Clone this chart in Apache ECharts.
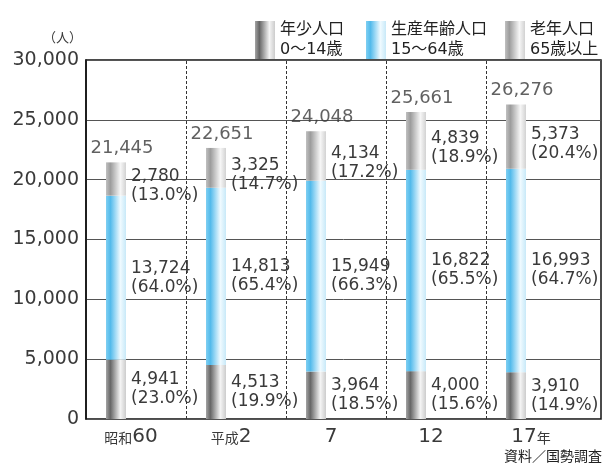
<!DOCTYPE html>
<html><head><meta charset="utf-8">
<script src="https://cdn.jsdelivr.net/npm/echarts@6/dist/echarts.min.js"></script>
<style>html,body{margin:0;padding:0;background:#fff}#c{width:604px;height:464px}</style>
</head><body><div id="c"></div>
<script>
const categories = ['昭和60', '平成2', '7', '12', '17年'];
const seriesNames = ['年少人口', '生産年齢人口', '老年人口'];
const ageRanges = ['0〜14歳', '15〜64歳', '65歳以上'];
const young = [4941, 4513, 3964, 4000, 3910];
const working = [13724, 14813, 15949, 16822, 16993];
const old = [2780, 3325, 4134, 4839, 5373];
const youngPct = ['23.0', '19.9', '18.5', '15.6', '14.9'];
const workingPct = ['64.0', '65.4', '66.3', '65.5', '64.7'];
const oldPct = ['13.0', '14.7', '17.2', '18.9', '20.4'];
const totals = [21445, 22651, 24048, 25661, 26276];
const yTicks = [0, 5000, 10000, 15000, 20000, 25000, 30000];

const FONT = "'DejaVu Sans', 'Noto Sans CJK JP', sans-serif";
const TXT = '#3a3a3a';
const BAR_POS = 0.3;
const fmt = v => v.toLocaleString('en-US');
const grad = stops => new echarts.graphic.LinearGradient(0, 0, 1, 0,
  stops.map((c, i) => ({ offset: [0, 0.22, 0.72, 1][i], color: c })));
const colors = [
  grad(['#a4a4a4', '#666666', '#f4f4f4', '#cccccc']),
  grad(['#7fcff2', '#52baeb', '#effaff', '#c8e9f8']),
  grad(['#c0c0c0', '#9c9c9c', '#f6f6f6', '#d2d2d2'])
];
const values = [young, working, old];
const pcts = [youngPct, workingPct, oldPct];

const barSeries = values.map((arr, s) => ({
  name: seriesNames[s],
  type: 'bar',
  stack: 'total',
  xAxisIndex: 1, yAxisIndex: 1,
  barWidth: 20,
  barGap: '100%',
  itemStyle: { color: colors[s] },
  data: arr,
  label: {
    show: true,
    position: 'right',
    distance: 5,
    offset: s === 2 ? [0, 7] : [0, 0],
    fontFamily: FONT,
    fontSize: 17,
    lineHeight: 19,
    color: TXT,
    align: 'left',
    formatter: p => fmt(arr[p.dataIndex]) + '\n(' + pcts[s][p.dataIndex] + '%)'
  }
}));

const legendBase = {
  icon: 'rect', itemWidth: 20, itemHeight: 38, top: 15,
  textStyle: { fontFamily: FONT, fontSize: 16, lineHeight: 20, color: '#222' },
  formatter: n => n + '\n' + ageRanges[seriesNames.indexOf(n)],
  selectedMode: false
};

const option = {
  animation: false,
  backgroundColor: '#fff',
  title: {
    text: '資料／国勢調査', right: 2, bottom: 0, padding: 0,
    textStyle: { fontFamily: FONT, fontSize: 14, fontWeight: 'normal', color: '#222' }
  },
  legend: [
    Object.assign({}, legendBase, { data: [seriesNames[0]], left: 250 }),
    Object.assign({}, legendBase, { data: [seriesNames[1]], left: 361 }),
    Object.assign({}, legendBase, { data: [seriesNames[2]], left: 500 })
  ],
  grid: [
    { left: 86, right: 3, top: 60, bottom: 45, show: true, borderColor: '#111', borderWidth: 1.5, backgroundColor: 'transparent' },
    { left: 86, right: 18, top: 60, bottom: 45, show: false }
  ],
  xAxis: [{
    type: 'value', min: 0, max: 5.15, gridIndex: 0,
    axisLine: { show: false }, axisTick: { show: false }, splitLine: { show: false },
    axisLabel: {
      customValues: categories.map((_, i) => i + 0.45),
      margin: 8,
      formatter: v => {
        const c = categories[Math.round(v - 0.45)] || '';
        return c.replace(/(\d+)|(\D+)/g, (m, d, s) => d ? '{n|' + d + '}' : '{s|' + s + '}');
      },
      rich: {
        n: { fontFamily: FONT, fontSize: 20, color: TXT },
        s: { fontFamily: FONT, fontSize: 14, color: TXT, padding: [4, 0, 0, 0] }
      }
    }
  }, {
    type: 'category', gridIndex: 1, data: categories, show: false
  }],
  yAxis: [{
    type: 'value', gridIndex: 0, min: yTicks[0], max: yTicks[yTicks.length - 1], interval: 5000,
    name: '（人）', nameLocation: 'end', nameGap: 15,
    nameTextStyle: { fontFamily: FONT, fontSize: 13, color: TXT, align: 'right', verticalAlign: 'bottom', padding: [0, 4, 0, 0] },
    axisLine: { show: true, lineStyle: { color: '#111', width: 1.5 } },
    axisTick: { show: false },
    axisLabel: { fontFamily: FONT, fontSize: 19, color: TXT, margin: 7, formatter: v => fmt(v) },
    splitLine: { show: true, lineStyle: { color: '#555', width: 1 } }
  }, {
    type: 'value', gridIndex: 1, min: yTicks[0], max: yTicks[yTicks.length - 1], show: false,
    splitLine: { show: false }
  }],
  series: barSeries.concat([{
    name: 'spacer',
    type: 'bar', stack: 'spacer', xAxisIndex: 1, yAxisIndex: 1,
    barWidth: 20, barGap: '100%', silent: true,
    itemStyle: { color: 'transparent' },
    data: categories.map(() => null)
  }, {
    name: 'total',
    type: 'scatter',
    xAxisIndex: 0, yAxisIndex: 0,
    symbolSize: 0,
    data: totals.map((t, i) => [i + BAR_POS, t]),
    label: {
      show: true, position: 'top', distance: 5, offset: [6, 0],
      fontFamily: FONT, fontSize: 18, color: TXT,
      formatter: p => fmt(totals[p.dataIndex])
    },
    markLine: {
      silent: true, symbol: 'none', label: { show: false },
      lineStyle: { type: [3, 2], color: '#333', width: 1 },
      data: categories.slice(1).map((_, i) => ({ xAxis: i + 1 }))
    },
    z: 5
  }])
};
const chart = echarts.init(document.getElementById('c'), null, { renderer: 'canvas' });
chart.setOption(option);
</script></body></html>
